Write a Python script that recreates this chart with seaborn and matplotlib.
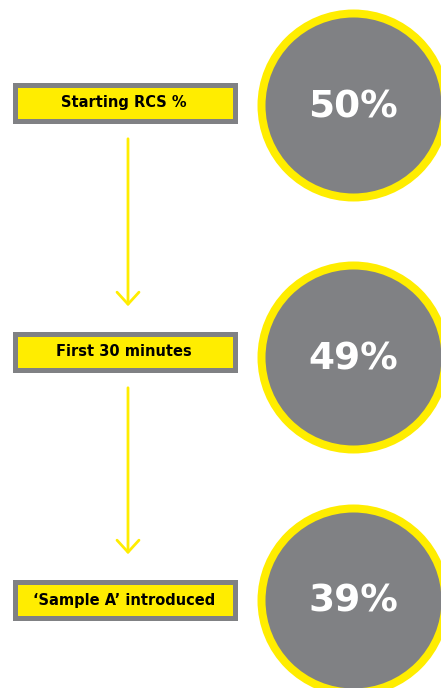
import pandas as pd
import seaborn as sns
import matplotlib.pyplot as plt
from matplotlib.patches import Rectangle

# Chart data
stages = ["Starting RCS %", "First 30 minutes", "\u2018Sample A\u2019 introduced"]
rcs_pct = [50, 49, 39]

# Layout (pixels, figure is 441x688 at dpi 100)
box_y = [103, 352, 600]
circle_y = [105, 357, 600]
circle_x = 353
yellow = "#FFED00"
grey = "#808184"

df = pd.DataFrame({"stage": stages, "rcs": rcs_pct, "by": box_y, "cy": circle_y})
df["cx"] = circle_x

sns.set_theme(style="white")
plt.rcParams["font.family"] = ["DejaVu Sans"]

fig = plt.figure(figsize=(4.41, 6.88), dpi=100)
ax = fig.add_axes([0, 0, 1, 1])

# Circles: path radius 92px, ring 8px (1px = 0.72pt)
sns.scatterplot(
    data=df, x="cx", y="cy", ax=ax, s=(184 * 0.72) ** 2,
    color=grey, edgecolor=yellow, linewidth=8 * 0.72, legend=False, zorder=2,
)
for _, r in df.iterrows():
    ax.text(r["cx"], r["cy"] + 2, f"{r['rcs']}%", color="white", fontsize=27,
            fontweight="heavy", ha="center", va="center", zorder=3)

# Label boxes
for _, r in df.iterrows():
    ax.add_patch(Rectangle((14.5, r["by"] - 18), 220, 36, facecolor=yellow,
                           edgecolor=grey, linewidth=5 * 0.72, zorder=2))
    ax.text(124, r["by"], r["stage"], color="black", fontsize=10.5,
            fontweight="bold", ha="center", va="center", zorder=3)

# Arrows between stages
for y0, y1 in zip(box_y[:-1], box_y[1:]):
    ax.annotate("", xy=(128, y1 - 43), xytext=(128, y0 + 33),
                arrowprops=dict(arrowstyle="->,head_length=0.48,head_width=0.44",
                                color=yellow, lw=2, mutation_scale=18))

ax.set_xlim(0, 441)
ax.set_ylim(688, 0)
ax.axis("off")

plt.savefig("out.png", dpi=100)
